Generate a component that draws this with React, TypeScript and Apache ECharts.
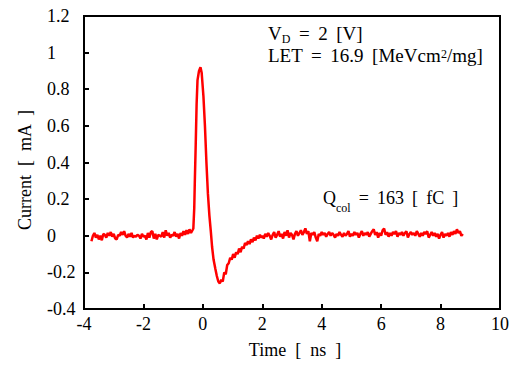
import React, { useEffect, useRef } from "react";
import * as echarts from "echarts";

// Axis ranges / ticks
const xRange = { min: -4, max: 10, interval: 2 };
const yRange = { min: -0.4, max: 1.2, interval: 0.2 };

// Texts (wide spacing as in the reference)
const SP = " \u2009";
const xTitle = "Time  [  ns  ]";
const yTitle = "Current  [  mA  ]";
const vdLabel = ["V", "D", `${SP}=${SP}2${SP}[V]`];
const letLabel = [`LET${SP}=${SP}16.9${SP}[MeVcm`, "2", "/mg]"];
const qLabel = ["Q", "col", `${SP}=${SP}163${SP}[${SP}fC${SP}]`];

// Trace segments: [time ns, current mA]
const baselineBefore: [number, number][] = [
  [-3.75, -0.03], [-3.7, 0.0], [-3.65, 0.015], [-3.6, -0.01], [-3.55, 0.005], [-3.5, -0.02],
  [-3.45, 0.0], [-3.4, -0.025], [-3.35, 0.01], [-3.3, 0.005], [-3.25, -0.01], [-3.2, 0.015],
  [-3.15, 0.0], [-3.1, 0.02], [-3.05, -0.005], [-3.0, 0.01], [-2.95, -0.015], [-2.9, -0.02],
  [-2.85, 0.005], [-2.8, 0.0], [-2.75, 0.02], [-2.7, 0.005], [-2.65, 0.025], [-2.6, 0.0],
  [-2.55, -0.01], [-2.5, 0.01], [-2.45, -0.005], [-2.4, 0.015], [-2.35, -0.01], [-2.3, 0.0],
  [-2.25, -0.005], [-2.2, 0.005], [-2.15, 0.0], [-2.1, -0.015], [-2.05, 0.01], [-2.0, -0.005],
  [-1.95, 0.0], [-1.9, -0.02], [-1.85, 0.015], [-1.8, -0.01], [-1.75, 0.02], [-1.7, 0.025],
  [-1.65, -0.015], [-1.6, 0.01], [-1.55, -0.02], [-1.5, 0.005], [-1.45, 0.0], [-1.4, -0.005],
  [-1.35, 0.02], [-1.3, -0.01], [-1.25, 0.03], [-1.2, 0.0], [-1.15, 0.015], [-1.1, -0.01],
  [-1.05, 0.005], [-1.0, 0.0], [-0.95, 0.02], [-0.9, -0.005], [-0.85, 0.01], [-0.8, -0.015],
  [-0.75, 0.015], [-0.7, 0.0], [-0.65, 0.025], [-0.6, 0.005], [-0.55, 0.03], [-0.5, 0.01],
  [-0.45, 0.035], [-0.4, 0.015],
];

const pulse: [number, number][] = [
  [-0.35, 0.03], [-0.32, 0.04], [-0.29, 0.15], [-0.27, 0.3], [-0.24, 0.5], [-0.21, 0.72],
  [-0.18, 0.85], [-0.13, 0.9], [-0.08, 0.92], [-0.04, 0.89], [0.02, 0.76], [0.07, 0.6],
  [0.12, 0.4], [0.17, 0.23], [0.22, 0.11], [0.27, 0.02], [0.31, -0.06], [0.36, -0.13],
  [0.42, -0.18], [0.47, -0.22], [0.52, -0.25], [0.57, -0.26],
];

const recovery: [number, number][] = [
  [0.62, -0.24], [0.67, -0.25], [0.72, -0.2], [0.77, -0.21], [0.82, -0.16], [0.87, -0.15],
  [0.92, -0.12], [0.97, -0.13], [1.02, -0.1], [1.07, -0.12], [1.12, -0.09], [1.17, -0.1],
  [1.22, -0.07], [1.27, -0.09], [1.32, -0.06], [1.37, -0.07], [1.42, -0.04], [1.47, -0.05],
  [1.52, -0.03], [1.57, -0.045], [1.62, -0.02], [1.67, -0.035], [1.72, -0.01], [1.77, -0.025],
  [1.82, 0.0], [1.87, -0.015], [1.92, 0.005], [1.97, -0.01], [2.0, 0.0],
];

const baselineAfter: [number, number][] = [
  [2.05, -0.015], [2.1, 0.01], [2.15, -0.005], [2.2, 0.015], [2.25, 0.0], [2.3, -0.02],
  [2.35, 0.005], [2.4, 0.02], [2.45, -0.01], [2.5, 0.005], [2.55, 0.025], [2.6, -0.005],
  [2.65, 0.01], [2.7, -0.015], [2.75, 0.02], [2.8, 0.0], [2.85, 0.03], [2.9, -0.01],
  [2.95, 0.015], [3.0, 0.005], [3.05, -0.02], [3.1, 0.01], [3.15, 0.025], [3.2, 0.0],
  [3.25, 0.015], [3.3, 0.03], [3.35, 0.005], [3.4, 0.02], [3.45, 0.04], [3.5, 0.01],
  [3.55, 0.025], [3.6, -0.03], [3.65, 0.015], [3.7, 0.005], [3.75, 0.02], [3.8, -0.01],
  [3.85, -0.03], [3.9, 0.01], [3.95, 0.0], [4.0, 0.02], [4.05, 0.005], [4.1, 0.015],
  [4.15, -0.005], [4.2, 0.01], [4.25, 0.02], [4.3, 0.0], [4.35, 0.015], [4.4, 0.005],
  [4.45, -0.01], [4.5, 0.01], [4.55, 0.0], [4.6, 0.02], [4.65, 0.005], [4.7, -0.005],
  [4.75, 0.015], [4.8, 0.0], [4.85, 0.01], [4.9, 0.025], [4.95, -0.005], [5.0, 0.01],
  [5.05, 0.0], [5.1, 0.02], [5.15, 0.005], [5.2, 0.015], [5.25, -0.01], [5.3, 0.01],
  [5.35, 0.025], [5.4, 0.0], [5.45, 0.015], [5.5, 0.005], [5.55, 0.02], [5.6, -0.005],
  [5.65, 0.01], [5.7, 0.025], [5.75, 0.035], [5.8, 0.005], [5.85, 0.02], [5.9, -0.01],
  [5.95, 0.015], [6.0, 0.0], [6.05, 0.03], [6.1, 0.04], [6.15, 0.005], [6.2, 0.02],
  [6.25, -0.005], [6.3, 0.015], [6.35, 0.0], [6.4, 0.02], [6.45, 0.01], [6.5, 0.025],
  [6.55, -0.005], [6.6, 0.015], [6.65, 0.005], [6.7, 0.02], [6.75, 0.0], [6.8, 0.015],
  [6.85, 0.025], [6.9, -0.01], [6.95, 0.01], [7.0, 0.02], [7.05, 0.005], [7.1, 0.015],
  [7.15, 0.0], [7.2, 0.025], [7.25, 0.01], [7.3, -0.005], [7.35, 0.015], [7.4, 0.0],
  [7.45, 0.02], [7.5, 0.01], [7.55, 0.025], [7.6, -0.01], [7.65, 0.005], [7.7, 0.02],
  [7.75, 0.0], [7.8, 0.015], [7.85, -0.005], [7.9, 0.01], [7.95, -0.015], [8.0, 0.005],
  [8.05, 0.02], [8.1, -0.01], [8.15, 0.01], [8.2, 0.0], [8.25, 0.015], [8.3, -0.005],
  [8.35, 0.02], [8.4, 0.005], [8.45, 0.025], [8.5, 0.01], [8.55, 0.035], [8.6, 0.015],
  [8.65, 0.025], [8.7, 0.0], [8.75, 0.01],
];

const FONT = "Liberation Serif";

export default function App() {
  const ref = useRef<HTMLDivElement>(null);

  useEffect(() => {
    document.body.style.margin = "0";
    if (!ref.current) return;
    const chart = echarts.init(ref.current, null, { renderer: "svg" });
    const trace = [...baselineBefore, ...pulse, ...recovery, ...baselineAfter];

    const mainStyle = { fontSize: 18, fontFamily: FONT, fill: "#000" };
    const smallStyle = { fontSize: 12, fontFamily: FONT, fill: "#000", lineHeight: 12 };

    chart.setOption({
      animation: false,
      backgroundColor: "#fff",
      grid: {
        left: 84,
        right: 23,
        top: 16,
        bottom: 56,
        show: true,
        borderColor: "#000",
        borderWidth: 2,
        backgroundColor: "transparent",
      },
      xAxis: {
        type: "value",
        min: xRange.min,
        max: xRange.max,
        interval: xRange.interval,
        splitLine: { show: false },
        axisLine: { show: true, onZero: false, lineStyle: { color: "#000", width: 2 } },
        axisTick: { show: true, inside: true, length: 5, lineStyle: { color: "#000", width: 2 } },
        axisLabel: { color: "#000", fontSize: 18, fontFamily: FONT, margin: 6 },
      },
      yAxis: {
        type: "value",
        min: yRange.min,
        max: yRange.max,
        interval: yRange.interval,
        splitLine: { show: false },
        axisLine: { show: true, onZero: false, lineStyle: { color: "#000", width: 2 } },
        axisTick: { show: true, inside: true, length: 5, lineStyle: { color: "#000", width: 2 } },
        axisLabel: {
          color: "#000",
          fontSize: 18,
          fontFamily: FONT,
          align: "left",
          margin: 37,
          formatter: (v: number) => String(Math.round(v * 10) / 10),
        },
      },
      graphic: [
        {
          type: "text",
          x: 25,
          y: 170,
          rotation: Math.PI / 2,
          style: { text: yTitle, ...mainStyle, align: "center", verticalAlign: "middle" },
        },
        {
          type: "text",
          x: 295,
          y: 350,
          style: { text: xTitle, ...mainStyle, align: "center", verticalAlign: "middle" },
        },
        {
          type: "text",
          left: 268,
          top: 24,
          style: {
            text: `{a|${vdLabel[0]}}{s|${vdLabel[1]}}{a|${vdLabel[2]}}`,
            rich: {
              a: { ...mainStyle, fontSize: 19, lineHeight: 22 },
              s: { ...smallStyle, verticalAlign: "bottom" },
            },
          },
        },
        {
          type: "text",
          left: 268,
          top: 46,
          style: {
            text: `{a|${letLabel[0]}}{p|${letLabel[1]}}{a|${letLabel[2]}}`,
            rich: {
              a: { ...mainStyle, fontSize: 19, lineHeight: 16 },
              p: { ...smallStyle, verticalAlign: "top" },
            },
          },
        },
        {
          type: "text",
          left: 323,
          top: 189,
          style: {
            text: `{a|${qLabel[0]}}{s|${qLabel[1]}}{a|${qLabel[2]}}`,
            rich: {
              a: { ...mainStyle, lineHeight: 32 },
              s: { ...smallStyle, verticalAlign: "bottom" },
            },
          },
        },
      ],
      series: [
        {
          type: "line",
          data: trace,
          showSymbol: false,
          symbol: "none",
          lineStyle: { color: "#ff0000", width: 2.5 },
          itemStyle: { color: "#ff0000" },
        },
      ],
    });

    return () => chart.dispose();
  }, []);

  return <div ref={ref} style={{ width: 523, height: 365 }} />;
}
